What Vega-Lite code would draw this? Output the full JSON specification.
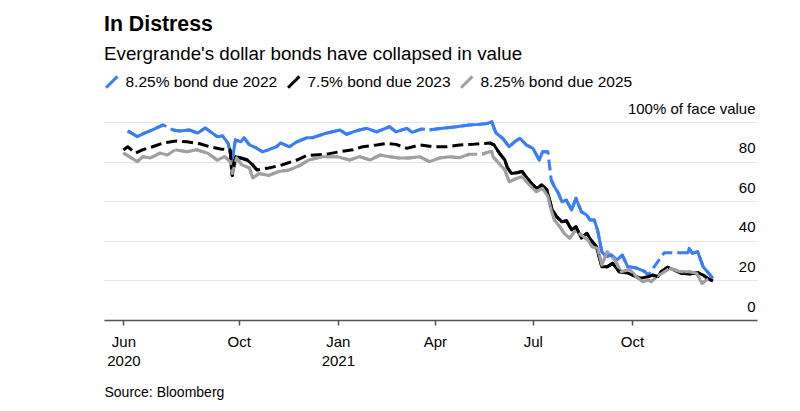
{
  "$schema": "https://vega.github.io/schema/vega-lite/v6.json",
  "width": 653,
  "height": 198,
  "autosize": {"type": "none"},
  "padding": {"left": 104, "top": 122, "right": 43, "bottom": 91},
  "background": "white",
  "title": {
    "text": "In Distress",
    "subtitle": "Evergrande's dollar bonds have collapsed in value",
    "anchor": "start",
    "frame": "group",
    "font": "Liberation Sans",
    "fontSize": 21.3,
    "fontWeight": "bold",
    "color": "#000000",
    "subtitleFont": "Liberation Sans",
    "subtitleFontSize": 18.8,
    "subtitleColor": "#000000",
    "subtitlePadding": 10,
    "offset": 10
  },
  "config": {
    "view": {"stroke": null},
    "font": "Liberation Sans"
  },
  "data": {
    "values": [
      {"d": "2020-06-20", "s": "8.25% bond due 2022", "v": 95.5},
      {"d": "2020-06-29", "s": "8.25% bond due 2022", "v": 92.6},
      {"d": "2020-07-04", "s": "8.25% bond due 2022", "v": 94},
      {"d": "2020-07-13", "s": "8.25% bond due 2022", "v": 96},
      {"d": "2020-07-23", "s": "8.25% bond due 2022", "v": 98.5},
      {"d": "2020-07-27", "s": "8.25% bond due 2022", "v": null},
      {"d": "2020-08-01", "s": "8.25% bond due 2022", "v": 96},
      {"d": "2020-08-07", "s": "8.25% bond due 2022", "v": 95.5},
      {"d": "2020-08-16", "s": "8.25% bond due 2022", "v": 96},
      {"d": "2020-08-24", "s": "8.25% bond due 2022", "v": 94.4},
      {"d": "2020-08-31", "s": "8.25% bond due 2022", "v": 97},
      {"d": "2020-09-11", "s": "8.25% bond due 2022", "v": 92.6},
      {"d": "2020-09-16", "s": "8.25% bond due 2022", "v": 93},
      {"d": "2020-09-21", "s": "8.25% bond due 2022", "v": 89.4},
      {"d": "2020-09-25", "s": "8.25% bond due 2022", "v": 81},
      {"d": "2020-09-28", "s": "8.25% bond due 2022", "v": 91},
      {"d": "2020-10-03", "s": "8.25% bond due 2022", "v": 90},
      {"d": "2020-10-06", "s": "8.25% bond due 2022", "v": 92},
      {"d": "2020-10-11", "s": "8.25% bond due 2022", "v": 88.4},
      {"d": "2020-10-17", "s": "8.25% bond due 2022", "v": 87},
      {"d": "2020-10-23", "s": "8.25% bond due 2022", "v": 85},
      {"d": "2020-10-29", "s": "8.25% bond due 2022", "v": 86},
      {"d": "2020-11-01", "s": "8.25% bond due 2022", "v": null},
      {"d": "2020-11-05", "s": "8.25% bond due 2022", "v": 87.5},
      {"d": "2020-11-09", "s": "8.25% bond due 2022", "v": 89.4},
      {"d": "2020-11-17", "s": "8.25% bond due 2022", "v": 87.5},
      {"d": "2020-11-24", "s": "8.25% bond due 2022", "v": 90},
      {"d": "2020-12-03", "s": "8.25% bond due 2022", "v": 92},
      {"d": "2020-12-08", "s": "8.25% bond due 2022", "v": 92},
      {"d": "2020-12-21", "s": "8.25% bond due 2022", "v": 94.3},
      {"d": "2021-01-03", "s": "8.25% bond due 2022", "v": 96},
      {"d": "2021-01-09", "s": "8.25% bond due 2022", "v": 93.8},
      {"d": "2021-01-21", "s": "8.25% bond due 2022", "v": 96},
      {"d": "2021-01-28", "s": "8.25% bond due 2022", "v": 96.8},
      {"d": "2021-02-06", "s": "8.25% bond due 2022", "v": 95},
      {"d": "2021-02-18", "s": "8.25% bond due 2022", "v": 97.6},
      {"d": "2021-02-24", "s": "8.25% bond due 2022", "v": 95},
      {"d": "2021-03-06", "s": "8.25% bond due 2022", "v": 96.8},
      {"d": "2021-03-11", "s": "8.25% bond due 2022", "v": 94.8},
      {"d": "2021-03-20", "s": "8.25% bond due 2022", "v": 96.5},
      {"d": "2021-03-23", "s": "8.25% bond due 2022", "v": null},
      {"d": "2021-03-27", "s": "8.25% bond due 2022", "v": 96},
      {"d": "2021-04-08", "s": "8.25% bond due 2022", "v": 96.8},
      {"d": "2021-04-21", "s": "8.25% bond due 2022", "v": 97.6},
      {"d": "2021-05-03", "s": "8.25% bond due 2022", "v": 98.5},
      {"d": "2021-05-12", "s": "8.25% bond due 2022", "v": 98.8},
      {"d": "2021-05-20", "s": "8.25% bond due 2022", "v": 99.3},
      {"d": "2021-05-24", "s": "8.25% bond due 2022", "v": 100.2},
      {"d": "2021-05-26", "s": "8.25% bond due 2022", "v": 96.8},
      {"d": "2021-05-28", "s": "8.25% bond due 2022", "v": 94.3},
      {"d": "2021-06-03", "s": "8.25% bond due 2022", "v": 91.8},
      {"d": "2021-06-09", "s": "8.25% bond due 2022", "v": 87.5},
      {"d": "2021-06-14", "s": "8.25% bond due 2022", "v": 90},
      {"d": "2021-06-19", "s": "8.25% bond due 2022", "v": 91.8},
      {"d": "2021-06-25", "s": "8.25% bond due 2022", "v": 88.4},
      {"d": "2021-07-01", "s": "8.25% bond due 2022", "v": 86.7},
      {"d": "2021-07-07", "s": "8.25% bond due 2022", "v": 80.8},
      {"d": "2021-07-10", "s": "8.25% bond due 2022", "v": 85},
      {"d": "2021-07-15", "s": "8.25% bond due 2022", "v": 85},
      {"d": "2021-07-16", "s": "8.25% bond due 2022", "v": null},
      {"d": "2021-07-18", "s": "8.25% bond due 2022", "v": 70.7},
      {"d": "2021-07-21", "s": "8.25% bond due 2022", "v": 67.3},
      {"d": "2021-07-24", "s": "8.25% bond due 2022", "v": 64.8},
      {"d": "2021-07-28", "s": "8.25% bond due 2022", "v": 59.7},
      {"d": "2021-08-01", "s": "8.25% bond due 2022", "v": 60.6},
      {"d": "2021-08-06", "s": "8.25% bond due 2022", "v": 55.6},
      {"d": "2021-08-10", "s": "8.25% bond due 2022", "v": 61.5},
      {"d": "2021-08-15", "s": "8.25% bond due 2022", "v": 54.7},
      {"d": "2021-08-20", "s": "8.25% bond due 2022", "v": 53},
      {"d": "2021-08-23", "s": "8.25% bond due 2022", "v": 50.5},
      {"d": "2021-08-27", "s": "8.25% bond due 2022", "v": 50.5},
      {"d": "2021-08-30", "s": "8.25% bond due 2022", "v": 45.5},
      {"d": "2021-09-03", "s": "8.25% bond due 2022", "v": 34.5},
      {"d": "2021-09-07", "s": "8.25% bond due 2022", "v": 32},
      {"d": "2021-09-12", "s": "8.25% bond due 2022", "v": 32.8},
      {"d": "2021-09-17", "s": "8.25% bond due 2022", "v": 30.3},
      {"d": "2021-09-22", "s": "8.25% bond due 2022", "v": 32.8},
      {"d": "2021-09-27", "s": "8.25% bond due 2022", "v": 26.9},
      {"d": "2021-10-01", "s": "8.25% bond due 2022", "v": 26.6},
      {"d": "2021-10-06", "s": "8.25% bond due 2022", "v": 26.1},
      {"d": "2021-10-13", "s": "8.25% bond due 2022", "v": 24.4},
      {"d": "2021-10-16", "s": "8.25% bond due 2022", "v": 22.7},
      {"d": "2021-10-20", "s": "8.25% bond due 2022", "v": null},
      {"d": "2021-10-31", "s": "8.25% bond due 2022", "v": 34},
      {"d": "2021-11-05", "s": "8.25% bond due 2022", "v": null},
      {"d": "2021-11-11", "s": "8.25% bond due 2022", "v": 34},
      {"d": "2021-11-16", "s": "8.25% bond due 2022", "v": null},
      {"d": "2021-11-22", "s": "8.25% bond due 2022", "v": 34},
      {"d": "2021-11-23", "s": "8.25% bond due 2022", "v": 36.2},
      {"d": "2021-11-26", "s": "8.25% bond due 2022", "v": 33.7},
      {"d": "2021-12-01", "s": "8.25% bond due 2022", "v": 34.5},
      {"d": "2021-12-06", "s": "8.25% bond due 2022", "v": 26.9},
      {"d": "2021-12-10", "s": "8.25% bond due 2022", "v": 24.4},
      {"d": "2021-12-15", "s": "8.25% bond due 2022", "v": 21},

      {"d": "2020-06-16", "s": "7.5% bond due 2023", "v": 85.9},
      {"d": "2020-06-17", "s": "7.5% bond due 2023", "v": null},
      {"d": "2020-06-20", "s": "7.5% bond due 2023", "v": 87.5},
      {"d": "2020-06-21", "s": "7.5% bond due 2023", "v": null},
      {"d": "2020-06-27", "s": "7.5% bond due 2023", "v": 84.3},
      {"d": "2020-06-28", "s": "7.5% bond due 2023", "v": null},
      {"d": "2020-07-04", "s": "7.5% bond due 2023", "v": 86},
      {"d": "2020-07-05", "s": "7.5% bond due 2023", "v": null},
      {"d": "2020-07-13", "s": "7.5% bond due 2023", "v": 87.5},
      {"d": "2020-07-14", "s": "7.5% bond due 2023", "v": null},
      {"d": "2020-07-23", "s": "7.5% bond due 2023", "v": 89.4},
      {"d": "2020-07-24", "s": "7.5% bond due 2023", "v": null},
      {"d": "2020-08-04", "s": "7.5% bond due 2023", "v": 90.4},
      {"d": "2020-08-05", "s": "7.5% bond due 2023", "v": null},
      {"d": "2020-08-14", "s": "7.5% bond due 2023", "v": 90},
      {"d": "2020-08-15", "s": "7.5% bond due 2023", "v": null},
      {"d": "2020-08-26", "s": "7.5% bond due 2023", "v": 89},
      {"d": "2020-08-27", "s": "7.5% bond due 2023", "v": null},
      {"d": "2020-09-04", "s": "7.5% bond due 2023", "v": 87.5},
      {"d": "2020-09-05", "s": "7.5% bond due 2023", "v": null},
      {"d": "2020-09-14", "s": "7.5% bond due 2023", "v": 86.4},
      {"d": "2020-09-15", "s": "7.5% bond due 2023", "v": null},
      {"d": "2020-09-23", "s": "7.5% bond due 2023", "v": 86},
      {"d": "2020-09-25", "s": "7.5% bond due 2023", "v": 73},
      {"d": "2020-09-28", "s": "7.5% bond due 2023", "v": 82.5},
      {"d": "2020-10-03", "s": "7.5% bond due 2023", "v": 81.8},
      {"d": "2020-10-09", "s": "7.5% bond due 2023", "v": 80.8},
      {"d": "2020-10-14", "s": "7.5% bond due 2023", "v": 78.3},
      {"d": "2020-10-18", "s": "7.5% bond due 2023", "v": 75.8},
      {"d": "2020-10-19", "s": "7.5% bond due 2023", "v": null},
      {"d": "2020-10-29", "s": "7.5% bond due 2023", "v": 76.8},
      {"d": "2020-10-30", "s": "7.5% bond due 2023", "v": null},
      {"d": "2020-11-10", "s": "7.5% bond due 2023", "v": 78.3},
      {"d": "2020-11-11", "s": "7.5% bond due 2023", "v": null},
      {"d": "2020-11-24", "s": "7.5% bond due 2023", "v": 80.8},
      {"d": "2020-11-25", "s": "7.5% bond due 2023", "v": null},
      {"d": "2020-12-03", "s": "7.5% bond due 2023", "v": 83},
      {"d": "2020-12-04", "s": "7.5% bond due 2023", "v": null},
      {"d": "2020-12-21", "s": "7.5% bond due 2023", "v": 83.7},
      {"d": "2020-12-22", "s": "7.5% bond due 2023", "v": null},
      {"d": "2021-01-03", "s": "7.5% bond due 2023", "v": 85},
      {"d": "2021-01-04", "s": "7.5% bond due 2023", "v": null},
      {"d": "2021-01-15", "s": "7.5% bond due 2023", "v": 86},
      {"d": "2021-01-16", "s": "7.5% bond due 2023", "v": null},
      {"d": "2021-01-24", "s": "7.5% bond due 2023", "v": 87.5},
      {"d": "2021-01-25", "s": "7.5% bond due 2023", "v": null},
      {"d": "2021-02-06", "s": "7.5% bond due 2023", "v": 88.4},
      {"d": "2021-02-07", "s": "7.5% bond due 2023", "v": null},
      {"d": "2021-02-15", "s": "7.5% bond due 2023", "v": 89.2},
      {"d": "2021-02-16", "s": "7.5% bond due 2023", "v": null},
      {"d": "2021-02-24", "s": "7.5% bond due 2023", "v": 88.7},
      {"d": "2021-02-25", "s": "7.5% bond due 2023", "v": null},
      {"d": "2021-03-06", "s": "7.5% bond due 2023", "v": 86.7},
      {"d": "2021-03-07", "s": "7.5% bond due 2023", "v": null},
      {"d": "2021-03-18", "s": "7.5% bond due 2023", "v": 88.4},
      {"d": "2021-03-19", "s": "7.5% bond due 2023", "v": null},
      {"d": "2021-03-30", "s": "7.5% bond due 2023", "v": 87.5},
      {"d": "2021-03-31", "s": "7.5% bond due 2023", "v": null},
      {"d": "2021-04-12", "s": "7.5% bond due 2023", "v": 87.5},
      {"d": "2021-04-13", "s": "7.5% bond due 2023", "v": null},
      {"d": "2021-04-24", "s": "7.5% bond due 2023", "v": 88.4},
      {"d": "2021-04-25", "s": "7.5% bond due 2023", "v": null},
      {"d": "2021-05-06", "s": "7.5% bond due 2023", "v": 88.7},
      {"d": "2021-05-07", "s": "7.5% bond due 2023", "v": null},
      {"d": "2021-05-22", "s": "7.5% bond due 2023", "v": 89.4},
      {"d": "2021-05-26", "s": "7.5% bond due 2023", "v": 88.4},
      {"d": "2021-05-31", "s": "7.5% bond due 2023", "v": 84.2},
      {"d": "2021-06-05", "s": "7.5% bond due 2023", "v": 80.8},
      {"d": "2021-06-07", "s": "7.5% bond due 2023", "v": 77.4},
      {"d": "2021-06-11", "s": "7.5% bond due 2023", "v": 74},
      {"d": "2021-06-16", "s": "7.5% bond due 2023", "v": 74.4},
      {"d": "2021-06-21", "s": "7.5% bond due 2023", "v": 75},
      {"d": "2021-06-26", "s": "7.5% bond due 2023", "v": 71.5},
      {"d": "2021-07-01", "s": "7.5% bond due 2023", "v": 68.2},
      {"d": "2021-07-05", "s": "7.5% bond due 2023", "v": 66.5},
      {"d": "2021-07-09", "s": "7.5% bond due 2023", "v": 68.2},
      {"d": "2021-07-14", "s": "7.5% bond due 2023", "v": 65.7},
      {"d": "2021-07-16", "s": "7.5% bond due 2023", "v": 61.5},
      {"d": "2021-07-19", "s": "7.5% bond due 2023", "v": 55.6},
      {"d": "2021-07-23", "s": "7.5% bond due 2023", "v": 52.2},
      {"d": "2021-07-28", "s": "7.5% bond due 2023", "v": 49.6},
      {"d": "2021-08-01", "s": "7.5% bond due 2023", "v": 50.2},
      {"d": "2021-08-06", "s": "7.5% bond due 2023", "v": 45.5},
      {"d": "2021-08-10", "s": "7.5% bond due 2023", "v": 47.1},
      {"d": "2021-08-15", "s": "7.5% bond due 2023", "v": 41.3},
      {"d": "2021-08-20", "s": "7.5% bond due 2023", "v": 43.8},
      {"d": "2021-08-24", "s": "7.5% bond due 2023", "v": 40.4},
      {"d": "2021-08-29", "s": "7.5% bond due 2023", "v": 37},
      {"d": "2021-09-03", "s": "7.5% bond due 2023", "v": 26.9},
      {"d": "2021-09-08", "s": "7.5% bond due 2023", "v": 26.9},
      {"d": "2021-09-13", "s": "7.5% bond due 2023", "v": 28.6},
      {"d": "2021-09-19", "s": "7.5% bond due 2023", "v": 24.4},
      {"d": "2021-09-26", "s": "7.5% bond due 2023", "v": 23.9},
      {"d": "2021-10-05", "s": "7.5% bond due 2023", "v": 21.9},
      {"d": "2021-10-08", "s": "7.5% bond due 2023", "v": 21},
      {"d": "2021-10-16", "s": "7.5% bond due 2023", "v": 21.9},
      {"d": "2021-10-20", "s": "7.5% bond due 2023", "v": 22.7},
      {"d": "2021-10-25", "s": "7.5% bond due 2023", "v": 21.9},
      {"d": "2021-10-28", "s": "7.5% bond due 2023", "v": 24.4},
      {"d": "2021-11-03", "s": "7.5% bond due 2023", "v": 26.6},
      {"d": "2021-11-09", "s": "7.5% bond due 2023", "v": 25.3},
      {"d": "2021-11-16", "s": "7.5% bond due 2023", "v": 23.6},
      {"d": "2021-11-23", "s": "7.5% bond due 2023", "v": 23.2},
      {"d": "2021-12-01", "s": "7.5% bond due 2023", "v": 23.9},
      {"d": "2021-12-06", "s": "7.5% bond due 2023", "v": 22.7},
      {"d": "2021-12-10", "s": "7.5% bond due 2023", "v": 21},
      {"d": "2021-12-15", "s": "7.5% bond due 2023", "v": 19.7},

      {"d": "2020-06-16", "s": "8.25% bond due 2025", "v": 84.3},
      {"d": "2020-06-29", "s": "8.25% bond due 2025", "v": 80},
      {"d": "2020-07-04", "s": "8.25% bond due 2025", "v": 82.5},
      {"d": "2020-07-11", "s": "8.25% bond due 2025", "v": 81.8},
      {"d": "2020-07-20", "s": "8.25% bond due 2025", "v": 84.3},
      {"d": "2020-07-27", "s": "8.25% bond due 2025", "v": 83.3},
      {"d": "2020-07-30", "s": "8.25% bond due 2025", "v": null},
      {"d": "2020-08-03", "s": "8.25% bond due 2025", "v": 86},
      {"d": "2020-08-14", "s": "8.25% bond due 2025", "v": 85},
      {"d": "2020-08-23", "s": "8.25% bond due 2025", "v": 86},
      {"d": "2020-09-02", "s": "8.25% bond due 2025", "v": 84.3},
      {"d": "2020-09-11", "s": "8.25% bond due 2025", "v": 80.8},
      {"d": "2020-09-18", "s": "8.25% bond due 2025", "v": 82.5},
      {"d": "2020-09-23", "s": "8.25% bond due 2025", "v": 80},
      {"d": "2020-09-25", "s": "8.25% bond due 2025", "v": 74},
      {"d": "2020-09-29", "s": "8.25% bond due 2025", "v": 81.8},
      {"d": "2020-10-04", "s": "8.25% bond due 2025", "v": 78.3},
      {"d": "2020-10-11", "s": "8.25% bond due 2025", "v": 76.8},
      {"d": "2020-10-14", "s": "8.25% bond due 2025", "v": 71.7},
      {"d": "2020-10-20", "s": "8.25% bond due 2025", "v": 74},
      {"d": "2020-10-29", "s": "8.25% bond due 2025", "v": 73},
      {"d": "2020-11-07", "s": "8.25% bond due 2025", "v": 75},
      {"d": "2020-11-17", "s": "8.25% bond due 2025", "v": 75.8},
      {"d": "2020-11-26", "s": "8.25% bond due 2025", "v": 77.8},
      {"d": "2020-12-05", "s": "8.25% bond due 2025", "v": 80.8},
      {"d": "2020-12-18", "s": "8.25% bond due 2025", "v": 82.5},
      {"d": "2020-12-31", "s": "8.25% bond due 2025", "v": 82.5},
      {"d": "2021-01-12", "s": "8.25% bond due 2025", "v": 80.8},
      {"d": "2021-01-21", "s": "8.25% bond due 2025", "v": 82.5},
      {"d": "2021-01-31", "s": "8.25% bond due 2025", "v": 80.8},
      {"d": "2021-02-09", "s": "8.25% bond due 2025", "v": 83.3},
      {"d": "2021-02-18", "s": "8.25% bond due 2025", "v": 82.5},
      {"d": "2021-02-27", "s": "8.25% bond due 2025", "v": 81.8},
      {"d": "2021-03-08", "s": "8.25% bond due 2025", "v": 81.8},
      {"d": "2021-03-18", "s": "8.25% bond due 2025", "v": 82.5},
      {"d": "2021-03-27", "s": "8.25% bond due 2025", "v": 80},
      {"d": "2021-04-05", "s": "8.25% bond due 2025", "v": 81.8},
      {"d": "2021-04-15", "s": "8.25% bond due 2025", "v": 82.5},
      {"d": "2021-04-24", "s": "8.25% bond due 2025", "v": 82},
      {"d": "2021-05-03", "s": "8.25% bond due 2025", "v": 83.7},
      {"d": "2021-05-09", "s": "8.25% bond due 2025", "v": null},
      {"d": "2021-05-15", "s": "8.25% bond due 2025", "v": 83.7},
      {"d": "2021-05-22", "s": "8.25% bond due 2025", "v": 85},
      {"d": "2021-05-24", "s": "8.25% bond due 2025", "v": 85},
      {"d": "2021-05-25", "s": "8.25% bond due 2025", "v": 82.5},
      {"d": "2021-05-29", "s": "8.25% bond due 2025", "v": 80},
      {"d": "2021-06-05", "s": "8.25% bond due 2025", "v": 75.8},
      {"d": "2021-06-09", "s": "8.25% bond due 2025", "v": 69.8},
      {"d": "2021-06-16", "s": "8.25% bond due 2025", "v": 71.5},
      {"d": "2021-06-21", "s": "8.25% bond due 2025", "v": 72.4},
      {"d": "2021-06-28", "s": "8.25% bond due 2025", "v": 68.2},
      {"d": "2021-07-04", "s": "8.25% bond due 2025", "v": 64.8},
      {"d": "2021-07-10", "s": "8.25% bond due 2025", "v": 66.5},
      {"d": "2021-07-15", "s": "8.25% bond due 2025", "v": 62.3},
      {"d": "2021-07-18", "s": "8.25% bond due 2025", "v": 55.6},
      {"d": "2021-07-21", "s": "8.25% bond due 2025", "v": 50.5},
      {"d": "2021-07-26", "s": "8.25% bond due 2025", "v": 47.1},
      {"d": "2021-07-30", "s": "8.25% bond due 2025", "v": 43.8},
      {"d": "2021-08-04", "s": "8.25% bond due 2025", "v": 41.3},
      {"d": "2021-08-10", "s": "8.25% bond due 2025", "v": 45.5},
      {"d": "2021-08-15", "s": "8.25% bond due 2025", "v": 42.9},
      {"d": "2021-08-21", "s": "8.25% bond due 2025", "v": 40.4},
      {"d": "2021-08-25", "s": "8.25% bond due 2025", "v": 37},
      {"d": "2021-08-30", "s": "8.25% bond due 2025", "v": 36.2},
      {"d": "2021-09-03", "s": "8.25% bond due 2025", "v": 27.8},
      {"d": "2021-09-08", "s": "8.25% bond due 2025", "v": 34.5},
      {"d": "2021-09-15", "s": "8.25% bond due 2025", "v": 30.3},
      {"d": "2021-09-21", "s": "8.25% bond due 2025", "v": 24.4},
      {"d": "2021-09-29", "s": "8.25% bond due 2025", "v": 25.5},
      {"d": "2021-10-05", "s": "8.25% bond due 2025", "v": 21.9},
      {"d": "2021-10-11", "s": "8.25% bond due 2025", "v": 19.3},
      {"d": "2021-10-16", "s": "8.25% bond due 2025", "v": 20.2},
      {"d": "2021-10-19", "s": "8.25% bond due 2025", "v": 19.3},
      {"d": "2021-10-24", "s": "8.25% bond due 2025", "v": 22.2},
      {"d": "2021-10-29", "s": "8.25% bond due 2025", "v": 23.6},
      {"d": "2021-11-05", "s": "8.25% bond due 2025", "v": 26.1},
      {"d": "2021-11-14", "s": "8.25% bond due 2025", "v": 24.4},
      {"d": "2021-11-23", "s": "8.25% bond due 2025", "v": 24.4},
      {"d": "2021-11-30", "s": "8.25% bond due 2025", "v": 23.6},
      {"d": "2021-12-05", "s": "8.25% bond due 2025", "v": 18.5},
      {"d": "2021-12-09", "s": "8.25% bond due 2025", "v": 20.2},
      {"d": "2021-12-14", "s": "8.25% bond due 2025", "v": 21}
    ]
  },
  "encoding": {
    "x": {
      "field": "d",
      "type": "temporal",
      "scale": {
        "type": "utc",
        "domain": [
          {"year": 2020, "month": 5, "date": 29, "utc": true},
          {"year": 2022, "month": 1, "date": 25, "utc": true}
        ]
      },
      "axis": {
        "values": [
          {"year": 2020, "month": 6, "date": 16, "utc": true},
          {"year": 2020, "month": 10, "date": 1, "utc": true},
          {"year": 2021, "month": 1, "date": 1, "utc": true},
          {"year": 2021, "month": 4, "date": 1, "utc": true},
          {"year": 2021, "month": 7, "date": 1, "utc": true},
          {"year": 2021, "month": 10, "date": 1, "utc": true}
        ],
        "labelExpr": "(utcmonth(datum.value) == 0 || utcmonth(datum.value) == 5) ? [utcFormat(datum.value, '%b'), utcFormat(datum.value, '%Y')] : utcFormat(datum.value, '%b')",
        "title": "Source: Bloomberg",
        "titleAnchor": "start",
        "titleAlign": "left",
        "titleFont": "Liberation Sans",
        "titleFontSize": 14,
        "titleFontWeight": "normal",
        "titleColor": "#000000",
        "titlePadding": 17,
        "grid": false,
        "domainColor": "#555555",
        "domainWidth": 1.5,
        "tickColor": "#555555",
        "tickWidth": 1.5,
        "tickSize": 5,
        "labelFont": "Liberation Sans",
        "labelFontSize": 15,
        "labelColor": "#000000",
        "labelPadding": 9,
        "labelLineHeight": 19,
        "labelAngle": 0
      }
    },
    "y": {
      "field": "v",
      "type": "quantitative",
      "scale": {"domain": [0, 100], "nice": false, "zero": true},
      "axis": {
        "orient": "right",
        "values": [0, 20, 40, 60, 80, 100],
        "labelExpr": "datum.value == 100 ? '100% of face value' : datum.label",
        "title": null,
        "domain": false,
        "ticks": false,
        "grid": true,
        "gridColor": "#e6e6e6",
        "gridWidth": 1,
        "labelAlign": "right",
        "labelBaseline": "alphabetic",
        "labelPadding": -2,
        "labelOffset": -9,
        "labelFont": "Liberation Sans",
        "labelFontSize": 15,
        "labelColor": "#000000"
      }
    },
    "color": {
      "field": "s",
      "type": "nominal",
      "sort": ["8.25% bond due 2022", "7.5% bond due 2023", "8.25% bond due 2025"],
      "scale": {
        "domain": ["8.25% bond due 2022", "7.5% bond due 2023", "8.25% bond due 2025"],
        "range": ["#3a7ef5", "#000000", "#a0a0a0"]
      },
      "legend": {
        "title": null,
        "orient": "none",
        "legendX": 0,
        "legendY": -48,
        "direction": "horizontal",
        "symbolType": "M-1,1L1,-1",
        "symbolSize": 130,
        "symbolStrokeWidth": 3,
        "labelFont": "Liberation Sans",
        "labelFontSize": 15.5,
        "labelColor": "#000000",
        "labelOffset": 6,
        "columnPadding": 4,
        "labelLimit": 300
      }
    }
  },
  "layer": [
    {
      "mark": {"type": "line", "strokeWidth": 3, "strokeJoin": "round", "invalid": "break-paths-show-domains"}
    },
    {
      "transform": [{"filter": "isValid(datum.v)"}],
      "mark": {"type": "line", "strokeWidth": 3, "strokeJoin": "round", "strokeDash": [11, 5]}
    }
  ]
}
